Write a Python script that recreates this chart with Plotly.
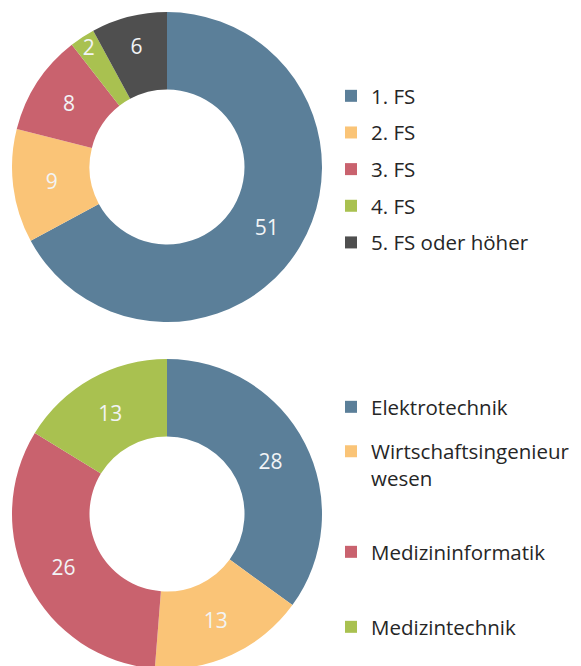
import plotly.graph_objects as go

# ---- data ----
top_labels = ["1. FS", "2. FS", "3. FS", "4. FS", "5. FS oder höher"]
top_values = [51, 9, 8, 2, 6]
top_colors = ["#5B7F99", "#FAC477", "#C9626E", "#A9C150", "#4F4F4F"]

bottom_labels = ["Elektrotechnik", "Wirtschaftsingenieur<br>wesen", "Medizininformatik", "Medizintechnik"]
bottom_values = [28, 13, 26, 13]
bottom_colors = ["#5B7F99", "#FAC477", "#C9626E", "#A9C150"]

W, H = 581, 666
OFF = 8  # page body margin
FONT = "Open Sans"

fig = go.Figure()

def py(page_px):
    return (H - (page_px - OFF)) / H

def px(page_px):
    return (page_px - OFF) / W

fig.add_trace(go.Pie(
    labels=top_labels, values=top_values, hole=0.5, sort=False,
    direction="clockwise", rotation=0,
    marker=dict(colors=top_colors, line=dict(width=0)),
    textinfo="value", textposition="inside", insidetextorientation="horizontal",
    textfont=dict(color="#F2F4F6", size=21, family=FONT),
    domain=dict(x=[px(12), px(322)], y=[py(322), py(12)]),
    showlegend=False, hoverinfo="skip",
))
fig.add_trace(go.Pie(
    labels=bottom_labels, values=bottom_values, hole=0.5, sort=False,
    direction="clockwise", rotation=0,
    marker=dict(colors=bottom_colors, line=dict(width=0)),
    textinfo="value", textposition="inside", insidetextorientation="horizontal",
    textfont=dict(color="#F2F4F6", size=21, family=FONT),
    domain=dict(x=[px(12), px(322)], y=[py(669), py(359)]),
    showlegend=False, hoverinfo="skip",
))

# legend entries (top legend)
for lab, col in zip(top_labels, top_colors):
    fig.add_trace(go.Scatter(
        x=[None], y=[None], mode="markers", name=lab, legendgroup=lab,
        marker=dict(symbol="square", size=12, color=col), legend="legend",
    ))

# bottom legend entries: one legend per entry to reproduce uneven spacing
bottom_leg_y = [407, 465, 552, 627]
for i, (lab, col) in enumerate(zip(bottom_labels, bottom_colors)):
    fig.add_trace(go.Scatter(
        x=[None], y=[None], mode="markers", name=lab,
        marker=dict(symbol="square", size=12, color=col), legend=f"legend{i + 2}",
    ))

leg_font = dict(family=FONT, size=20.5, color="#262626")
layout_legends = dict(
    legend=dict(x=px(331), y=py(76), xanchor="left", yanchor="top", font=leg_font,
                tracegroupgap=7, bgcolor="rgba(0,0,0,0)", valign="top"),
)
for i, yy in enumerate(bottom_leg_y):
    layout_legends[f"legend{i + 2}"] = dict(
        x=px(331), y=py(yy), xanchor="left", yanchor="middle", font=leg_font,
        bgcolor="rgba(0,0,0,0)", valign="top")

fig.update_layout(
    width=W, height=H,
    margin=dict(l=0, r=0, t=0, b=0),
    paper_bgcolor="white", plot_bgcolor="white",
    xaxis=dict(visible=False), yaxis=dict(visible=False),
    uniformtext=dict(minsize=21, mode="show"),
    **layout_legends,
)

fig.write_html("out.html")
